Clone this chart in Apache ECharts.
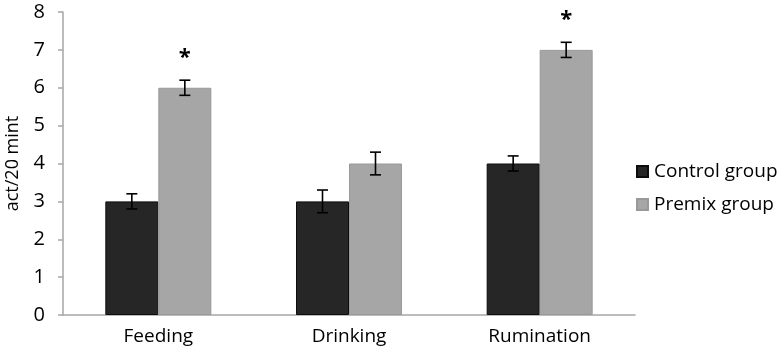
<!DOCTYPE html>
<html>
<head>
<meta charset="utf-8">
<script src="https://cdn.jsdelivr.net/npm/echarts@6/dist/echarts.min.js"></script>
<style>
  html, body { margin: 0; padding: 0; background: #fff; }
  #chart { width: 780px; height: 358px; }
</style>
</head>
<body>
<div id="chart"></div>
<script>
// datos del gráfico
const categories = ["Feeding", "Drinking", "Rumination"];
const controlValues = [3, 3, 4];
const controlErrors = [0.2, 0.3, 0.2];
const premixValues = [6, 4, 7];
const premixErrors = [0.2, 0.3, 0.2];
const premixMarks = ["*", "", "*"];
const yTicks = [0, 1, 2, 3, 4, 5, 6, 7, 8];

const FONT = "Open Sans";
const BAR_W = 53;

const chart = echarts.init(document.getElementById("chart"));

// barras de error (y asterisco) dibujadas con serie custom
const errorSeries = (name, values, errors, shift, marks) => ({
  name: name + " err",
  type: "custom",
  silent: true,
  z: 5,
  data: values.map((v, i) => [i, v, errors[i], marks ? marks[i] : ""]),
  renderItem: (params, api) => {
    const i = api.value(0);
    const v = api.value(1);
    const e = api.value(2);
    const top = api.coord([i, v + e]);
    const bot = api.coord([i, v - e]);
    const x = top[0] + shift;
    const cap = 5.5;
    const style = { stroke: "#000", lineWidth: 1.6 };
    const children = [
      { type: "line", shape: { x1: x, y1: top[1], x2: x, y2: bot[1] }, style },
      { type: "line", shape: { x1: x - cap, y1: top[1], x2: x + cap, y2: top[1] }, style },
      { type: "line", shape: { x1: x - cap, y1: bot[1], x2: x + cap, y2: bot[1] }, style },
    ];
    const mark = marks ? marks[params.dataIndex] : "";
    if (mark) {
      const mp = api.coord([i, v + 0.9]);
      children.push({
        type: "text",
        style: {
          text: mark, x: x, y: mp[1] + 4,
          align: "center", verticalAlign: "middle",
          font: "bold 22px " + FONT, fill: "#000",
        },
      });
    }
    return { type: "group", children };
  },
});

const option = {
  animation: false,
  textStyle: { fontFamily: FONT },
  grid: { left: 63, right: 145, top: 12, bottom: 43, outerBoundsMode: "none" },
  legend: {
    orient: "vertical",
    left: 631,
    top: 157,
    itemWidth: 11,
    itemHeight: 11,
    itemGap: 14,
    icon: "rect",
    data: ["Control group", "Premix group"],
    textStyle: { fontSize: 19, color: "#000", fontFamily: FONT, padding: [0, 0, 0, 1] },
  },
  xAxis: {
    type: "category",
    data: categories,
    axisLine: { lineStyle: { color: "#a6a6a6", width: 1.5 } },
    axisTick: { show: false },
    axisLabel: { fontSize: 19, color: "#000", margin: 12 },
  },
  yAxis: {
    type: "value",
    min: yTicks[0],
    max: yTicks[yTicks.length - 1],
    interval: 1,
    name: "act/20 mint",
    nameLocation: "middle",
    nameGap: 41,
    nameRotate: 90,
    nameTextStyle: { fontSize: 18, color: "#000" },
    axisLine: { show: true, lineStyle: { color: "#a6a6a6", width: 1.5 } },
    axisTick: { show: true, length: 5, lineStyle: { color: "#a6a6a6", width: 1.5 } },
    splitLine: { show: false },
    axisLabel: { fontSize: 20, color: "#000", margin: 18 },
  },
  series: [
    {
      name: "Control group",
      type: "bar",
      data: controlValues,
      barWidth: BAR_W,
      barGap: "0%",
      itemStyle: { color: "#262626", borderColor: "#0d0d0d", borderWidth: 1 },
    },
    {
      name: "Premix group",
      type: "bar",
      data: premixValues,
      barWidth: BAR_W,
      itemStyle: { color: "#a6a6a6", borderColor: "#999999", borderWidth: 1 },
    },
    errorSeries("Control group", controlValues, controlErrors, -BAR_W / 2),
    errorSeries("Premix group", premixValues, premixErrors, BAR_W / 2, premixMarks),
  ],
};

chart.setOption(option);
</script>
</body>
</html>
